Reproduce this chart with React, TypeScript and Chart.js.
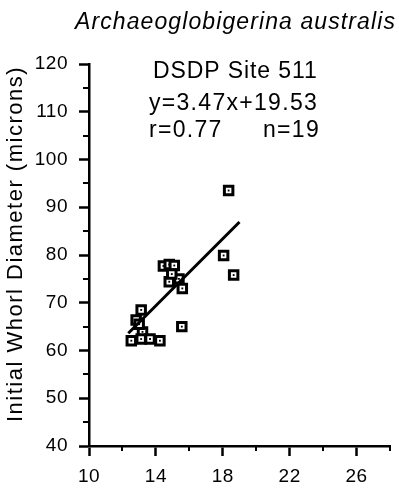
import React, { useEffect, useRef } from "react";
import { Chart, registerables } from "chart.js";

Chart.register(...registerables);

// Data
const whorlX = [18.35, 18.05, 18.65, 15.55, 14.45, 14.8, 15.1, 14.8, 15.38, 15.58, 14.95, 13.12, 12.82, 13.2, 12.53, 13.12, 13.65, 14.24, 13.0];
const whorlY = [93.5, 79.9, 75.8, 65.0, 77.7, 78.0, 77.8, 74.4, 75.0, 73.0, 76.0, 68.5, 66.4, 63.9, 62.05, 62.4, 62.4, 62.05, 65.5];
const fitX = [12.35, 19.0];
const fitY = [63.6, 86.9];
const xMajorTicks = [10, 14, 18, 22, 26];
const xMinorTicks = [12, 16, 20, 24, 28];
const yMinorTicks = [45, 55, 65, 75, 85, 95, 105, 115];

const titleText = "Archaeoglobigerina australis";
const siteText = "DSDP Site 511";
const eqText = "y=3.47x+19.53";
const rText = "r=0.77";
const nText = "n=19";
const yTitle = "Initial Whorl Diameter (microns)";

const FONT = "'Liberation Sans', Arial, Helvetica, sans-serif";

export default function App() {
  const ref = useRef<HTMLCanvasElement | null>(null);
  useEffect(() => {
    document.body.style.margin = "0";
    const canvas = ref.current!;
    const pts = whorlX.map((x, i) => ({ x, y: whorlY[i] }));
    const fit = fitX.map((x, i) => ({ x, y: fitY[i] }));

    const annot = {
      id: "annot",
      beforeDraw(chart: any) {
        (chart.ctx as any).letterSpacing = "0.5px";
      },
      afterDraw(chart: any) {
        const ctx = chart.ctx as any;
        const xs = chart.scales.x;
        const ys = chart.scales.y;
        ctx.save();
        ctx.strokeStyle = "#000";
        ctx.lineWidth = 2;
        const bottom = chart.chartArea.bottom;
        const left = chart.chartArea.left;
        xMinorTicks.forEach((v) => {
          const px = Math.round(xs.getPixelForValue(v));
          ctx.beginPath();
          ctx.moveTo(px, bottom);
          ctx.lineTo(px, bottom + 5);
          ctx.stroke();
        });
        yMinorTicks.forEach((v) => {
          const py = Math.round(ys.getPixelForValue(v));
          ctx.beginPath();
          ctx.moveTo(left, py);
          ctx.lineTo(left - 6, py);
          ctx.stroke();
        });
        ctx.fillStyle = "#000";
        ctx.textBaseline = "middle";
        ctx.font = `italic 23px ${FONT}`;
        ctx.letterSpacing = "1.1px";
        ctx.textAlign = "right";
        ctx.fillText(titleText, 396, 23);
        ctx.textAlign = "left";
        ctx.font = `23px ${FONT}`;
        ctx.letterSpacing = "0.9px";
        ctx.fillText(siteText, 153, 72);
        ctx.letterSpacing = "1.3px";
        ctx.fillText(eqText, 149, 104);
        ctx.fillText(rText, 149, 131);
        ctx.fillText(nText, 263, 131);
        ctx.translate(16, 244);
        ctx.rotate(-Math.PI / 2);
        ctx.textAlign = "center";
        ctx.font = `22px ${FONT}`;
        ctx.letterSpacing = "1.5px";
        ctx.fillText(yTitle, 0, 0);
        ctx.restore();
      },
    };

    const chart = new Chart(canvas, {
      type: "scatter",
      data: {
        datasets: [
          {
            type: "line",
            data: fit,
            borderColor: "#000",
            borderWidth: 3,
            pointRadius: 0,
            fill: false,
            order: 0,
          } as any,
          {
            data: pts,
            pointStyle: "rect",
            pointRadius: 1.3,
            backgroundColor: "#000",
            borderColor: "#000",
            borderWidth: 0,
            order: 1,
          },
          {
            data: pts,
            pointStyle: "rect",
            pointRadius: 6,
            backgroundColor: "#fff",
            borderColor: "#000",
            borderWidth: 3,
            order: 2,
          },
        ],
      },
      options: {
        animation: false,
        responsive: false,
        devicePixelRatio: 1,
        layout: { padding: { top: 64, right: 6, left: 0, bottom: 0 } },
        plugins: { legend: { display: false }, tooltip: { enabled: false }, title: { display: false } },
        scales: {
          x: {
            type: "linear",
            min: 10,
            max: 28,
            afterFit(scale: any) {
              scale.height = 44;
            },
            afterBuildTicks(scale: any) {
              scale.ticks = xMajorTicks.map((v) => ({ value: v }));
            },
            ticks: {
              color: "#000",
              font: { family: FONT, size: 19 },
              padding: 9,
              maxRotation: 0,
            },
            grid: {
              drawOnChartArea: false,
              drawTicks: true,
              tickLength: 10,
              tickWidth: 2.5,
              tickColor: "#000",
            },
            border: { display: true, color: "#000", width: 2.5 },
          },
          y: {
            type: "linear",
            min: 40,
            max: 120,
            afterFit(scale: any) {
              scale.width = 89;
            },
            ticks: {
              stepSize: 10,
              color: "#000",
              font: { family: FONT, size: 19 },
              padding: 11,
            },
            grid: {
              drawOnChartArea: false,
              drawTicks: true,
              tickLength: 10,
              tickWidth: 2.5,
              tickColor: "#000",
            },
            border: { display: true, color: "#000", width: 2.5 },
          },
        },
      },
      plugins: [annot],
    });
    return () => chart.destroy();
  }, []);
  return <canvas ref={ref} width={399} height={490} style={{ display: "block" }} />;
}
